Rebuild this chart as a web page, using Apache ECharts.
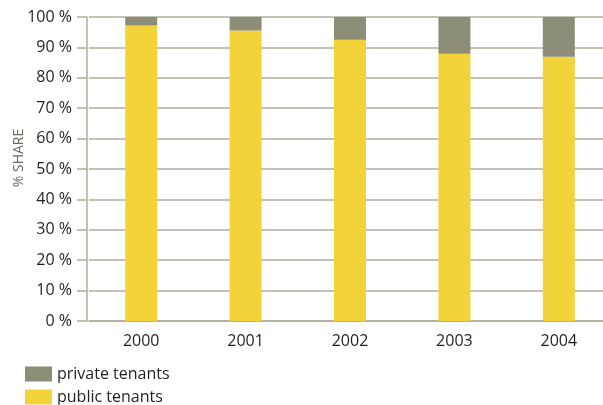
<!DOCTYPE html>
<html>
<head>
<meta charset="utf-8">
<script src="https://cdn.jsdelivr.net/npm/echarts@6/dist/echarts.min.js"></script>
<style>
  html, body { margin: 0; padding: 0; background: #fff; }
  #chart { width: 603px; height: 405px; }
</style>
</head>
<body>
<div id="chart"></div>
<script>
// Tenant share by year, in percent
const years = ['2000', '2001', '2002', '2003', '2004'];
const publicTenants = [97.2, 95.6, 92.5, 87.9, 86.9];
const privateTenants = [2.8, 4.4, 7.5, 12.1, 13.1];

const FONT = '"Open Sans", "Noto Sans", sans-serif';
const AXIS_COLOR = '#aeae9c';
const TEXT_COLOR = '#231f20';

const chart = echarts.init(document.getElementById('chart'), null, { renderer: 'canvas' });

// one legend row per series, stacked under the plot
function legendRow(name, top) {
  return {
    left: 25,
    top: top,
    itemWidth: 27,
    itemHeight: 15,
    icon: 'rect',
    padding: 0,
    textStyle: { fontFamily: FONT, fontSize: 16, color: TEXT_COLOR },
    data: [name]
  };
}

chart.setOption({
  animation: false,
  textStyle: { fontFamily: FONT },
  legend: [
    legendRow('private tenants', 366),
    legendRow('public tenants', 389)
  ],
  // plot area runs slightly past the right edge of the canvas
  grid: { left: 89, top: 17, bottom: 84, width: 522, outerBoundsMode: 'none', containLabel: false },
  xAxis: {
    type: 'category',
    data: years,
    axisLine: { lineStyle: { color: AXIS_COLOR, width: 1.5 } },
    axisTick: { length: 16, lineStyle: { color: AXIS_COLOR, width: 1.5 } },
    axisLabel: { fontFamily: FONT, fontSize: 16, color: TEXT_COLOR, margin: 12 }
  },
  yAxis: {
    type: 'value',
    min: 0,
    max: 100,
    interval: 10,
    offset: 2,
    name: '% SHARE',
    nameLocation: 'middle',
    nameGap: 61,
    nameMoveOverlap: false,
    nameRotate: 90,
    nameTextStyle: { fontFamily: FONT, fontSize: 14, color: '#6b6b5c', padding: [0, 0, 0, 22] },
    axisLine: { show: true, lineStyle: { color: AXIS_COLOR, width: 1.5 } },
    axisTick: { show: true, length: 10, lineStyle: { color: AXIS_COLOR, width: 1.5 } },
    splitLine: { lineStyle: { color: AXIS_COLOR, width: 1.5 } },
    axisLabel: { fontFamily: FONT, fontSize: 16, color: TEXT_COLOR, margin: 15, formatter: '{value} %' }
  },
  series: [
    {
      name: 'public tenants',
      type: 'bar',
      stack: 'share',
      barWidth: 32,
      itemStyle: { color: '#f2d33a' },
      data: publicTenants
    },
    {
      name: 'private tenants',
      type: 'bar',
      stack: 'share',
      barWidth: 32,
      itemStyle: { color: '#8c8e77' },
      data: privateTenants
    }
  ]
});
</script>
</body>
</html>
